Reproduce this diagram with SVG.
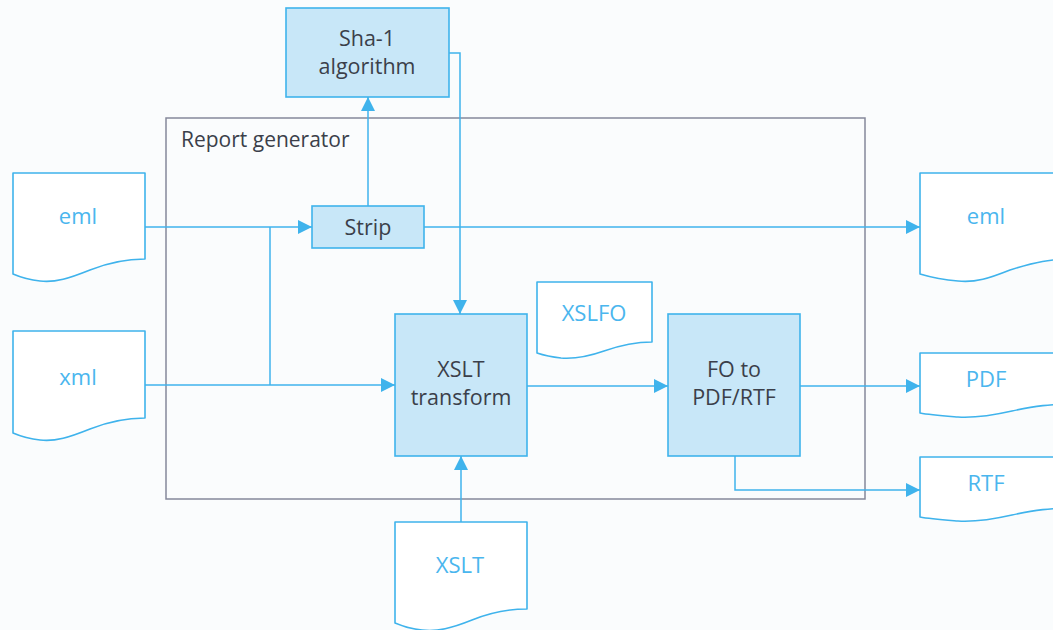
<svg xmlns="http://www.w3.org/2000/svg" width="1053" height="630" viewBox="0 0 1053 630">
  <style>
    .box { fill: #c8e7f8; stroke: #3fb3ec; stroke-width: 1.6; }
    .doc { fill: #ffffff; stroke: #3fb3ec; stroke-width: 1.6; stroke-linejoin: round; }
    .frame { fill: none; stroke: #85889a; stroke-width: 1.5; }
    .wire { fill: none; stroke: #3fb3ec; stroke-width: 1.5; }
    .lbl { font-family: "Open Sans", "Noto Sans", sans-serif; font-size: 21.5px; fill: #3b3f4a; text-anchor: middle; }
    .dlbl { font-family: "Open Sans", "Noto Sans", sans-serif; font-size: 22px; fill: #4ab6ee; text-anchor: middle; }
    .title { font-family: "Open Sans", "Noto Sans", sans-serif; font-size: 21px; fill: #3b3f4a; }
  </style>
  <defs>
    <marker id="arrow" viewBox="0 0 14 14" refX="14" refY="7" markerWidth="14" markerHeight="14" markerUnits="userSpaceOnUse" orient="auto">
      <path d="M0,0 L14,7 L0,14 z" fill="#3fb3ec"/>
    </marker>
  </defs>

  <rect width="1053" height="630" fill="#fafcfd"/>

  <!-- enclosing component -->
  <g id="report-generator">
    <rect class="frame" x="166" y="118" width="699" height="381"/>
    <text class="title" x="181" y="147">Report generator</text>
  </g>

  <!-- connectors -->
  <g id="connectors">
    <path class="wire" d="M145,227 H312" marker-end="url(#arrow)"/>
    <path class="wire" d="M270,227 V385"/>
    <path class="wire" d="M145,385 H395" marker-end="url(#arrow)"/>
    <path class="wire" d="M368,206 V97" marker-end="url(#arrow)"/>
    <path class="wire" d="M449,53 H460 V314" marker-end="url(#arrow)"/>
    <path class="wire" d="M424,227 H920" marker-end="url(#arrow)"/>
    <path class="wire" d="M527,386 H668" marker-end="url(#arrow)"/>
    <path class="wire" d="M800,386 H920" marker-end="url(#arrow)"/>
    <path class="wire" d="M735,456 V490 H920" marker-end="url(#arrow)"/>
    <path class="wire" d="M461,522 V456" marker-end="url(#arrow)"/>
  </g>

  <!-- input documents -->
  <g id="doc-eml-in">
    <path class="doc" d="M13,173 H145 V259 C125,259 110,262 90,270 C70,278 55,283 40,281 C30,280 20,277 13,274 Z"/>
    <text class="dlbl" x="78" y="224">eml</text>
  </g>
  <g id="doc-xml">
    <path class="doc" d="M13,331 H145 V418 C125,418 110,421 90,429 C70,437 55,442 40,440 C30,439 20,436 13,433 Z"/>
    <text class="dlbl" x="78" y="385">xml</text>
  </g>
  <g id="doc-xslt">
    <path class="doc" d="M395,522 H527 V609 C507,609 492,612 472,620 C452,628 437,632 422,630 C412,629 402,626 395,623 Z"/>
    <text class="dlbl" x="460" y="573">XSLT</text>
  </g>
  <g id="doc-xslfo">
    <path class="doc" d="M537,282 H652 V342 C634,342 621,345 604,351 C587,357 574,359 561,358 C552,357 543,355 537,353 Z"/>
    <text class="dlbl" x="594" y="321">XSLFO</text>
  </g>

  <!-- processing steps -->
  <g id="sha1">
    <rect class="box" x="286" y="8" width="163" height="89"/>
    <text class="lbl" x="367" y="46">Sha-1</text>
    <text class="lbl" x="367" y="74">algorithm</text>
  </g>
  <g id="strip">
    <rect class="box" x="312" y="206" width="112" height="42"/>
    <text class="lbl" x="368" y="235">Strip</text>
  </g>
  <g id="xslt-transform">
    <rect class="box" x="395" y="314" width="132" height="142"/>
    <text class="lbl" x="461" y="377">XSLT</text>
    <text class="lbl" x="461" y="405">transform</text>
  </g>
  <g id="fo-to-pdf-rtf">
    <rect class="box" x="668" y="314" width="132" height="142"/>
    <text class="lbl" x="734" y="377">FO to</text>
    <text class="lbl" x="734" y="405">PDF/RTF</text>
  </g>

  <!-- output documents -->
  <g id="doc-eml-out">
    <path class="doc" d="M920,173 H1075 V259 C1050,259 1035,262 1010,270 C990,278 975,283 958,281 C945,280 930,277 920,274 Z"/>
    <text class="dlbl" x="986" y="224">eml</text>
  </g>
  <g id="doc-pdf">
    <path class="doc" d="M920,353 H1075 V404 C1050,404 1035,406 1012,411 C990,416 975,418 958,417 C945,416 930,415 920,413 Z"/>
    <text class="dlbl" x="986" y="387">PDF</text>
  </g>
  <g id="doc-rtf">
    <path class="doc" d="M920,457 H1075 V508 C1050,508 1035,510 1012,515 C990,520 975,522 958,521 C945,520 930,519 920,517 Z"/>
    <text class="dlbl" x="986" y="491">RTF</text>
  </g>
</svg>
